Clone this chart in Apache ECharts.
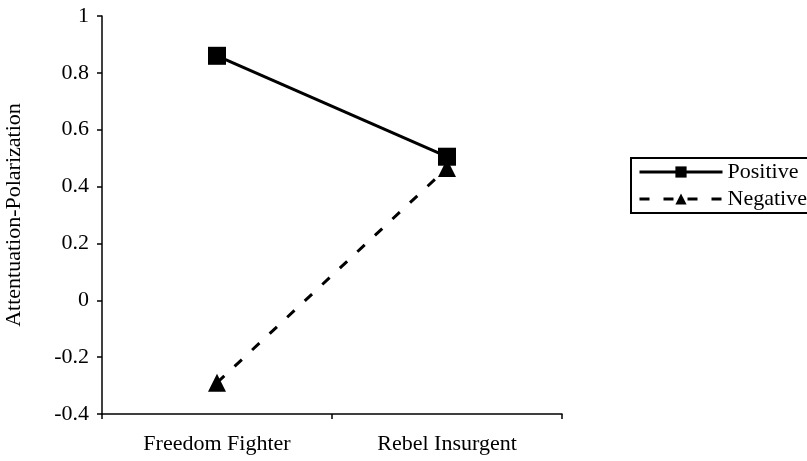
<!DOCTYPE html>
<html>
<head>
<meta charset="utf-8">
<script src="https://cdn.jsdelivr.net/npm/echarts@6/dist/echarts.min.js"></script>
<style>
  html, body { margin: 0; padding: 0; background: #fff; }
  #chart { width: 807px; height: 461px; }
</style>
</head>
<body>
<div id="chart"></div>
<script>
// categories along x
var categories = ['Freedom Fighter', 'Rebel Insurgent'];
// values
var positiveValues = [0.86, 0.505];
var negativeValues = [-0.29, 0.465];
var seriesNames = ['Positive', 'Negative'];

var myChart = echarts.init(document.getElementById('chart'));
var font = 'Liberation Serif, Times New Roman, serif';

var option = {
    backgroundColor: '#fff',
    animation: false,
    grid: { left: 102, right: 245, top: 16, bottom: 47, outerBoundsMode: 'none', containLabel: false },
    legend: {
        data: seriesNames,
        orient: 'vertical',
        left: 631,
        top: 158,
        itemWidth: 83,
        itemHeight: 14,
        itemGap: 5,
        padding: [3, 60, 3, 7],
        borderColor: '#000',
        borderWidth: 2,
        lineStyle: { width: 3 },
        textStyle: { fontFamily: font, fontSize: 22, color: '#000' }
    },
    xAxis: {
        type: 'category',
        data: categories,
        boundaryGap: true,
        axisLine: { onZero: false, lineStyle: { color: '#000', width: 1.5 } },
        axisTick: { show: true, alignWithLabel: false, length: 5, lineStyle: { color: '#000', width: 1.5 } },
        axisLabel: { fontFamily: font, fontSize: 22, color: '#000', margin: 19 },
        splitLine: { show: false }
    },
    yAxis: {
        type: 'value',
        min: -0.4,
        max: 1,
        interval: 0.2,
        name: 'Attentuation-Polarization',
        nameLocation: 'middle',
        nameGap: 77,
        nameTextStyle: { fontFamily: font, fontSize: 22, color: '#000' },
        axisLine: { show: true, lineStyle: { color: '#000', width: 1.5 } },
        axisTick: { show: true, length: 5, lineStyle: { color: '#000', width: 1.5 } },
        axisLabel: {
            fontFamily: font, fontSize: 22, color: '#000', margin: 13,
            formatter: function (v) { return String(Math.round(v * 10) / 10); }
        },
        splitLine: { show: false }
    },
    series: [
        {
            name: 'Positive',
            type: 'line',
            data: positiveValues,
            symbol: 'rect',
            symbolSize: 18,
            itemStyle: { color: '#000' },
            lineStyle: { color: '#000', width: 3, type: 'solid' }
        },
        {
            name: 'Negative',
            type: 'line',
            data: negativeValues,
            symbol: 'triangle',
            symbolSize: 18,
            itemStyle: { color: '#000' },
            lineStyle: { color: '#000', width: 3, type: [10, 14] }
        }
    ]
};
myChart.setOption(option);
</script>
</body>
</html>
